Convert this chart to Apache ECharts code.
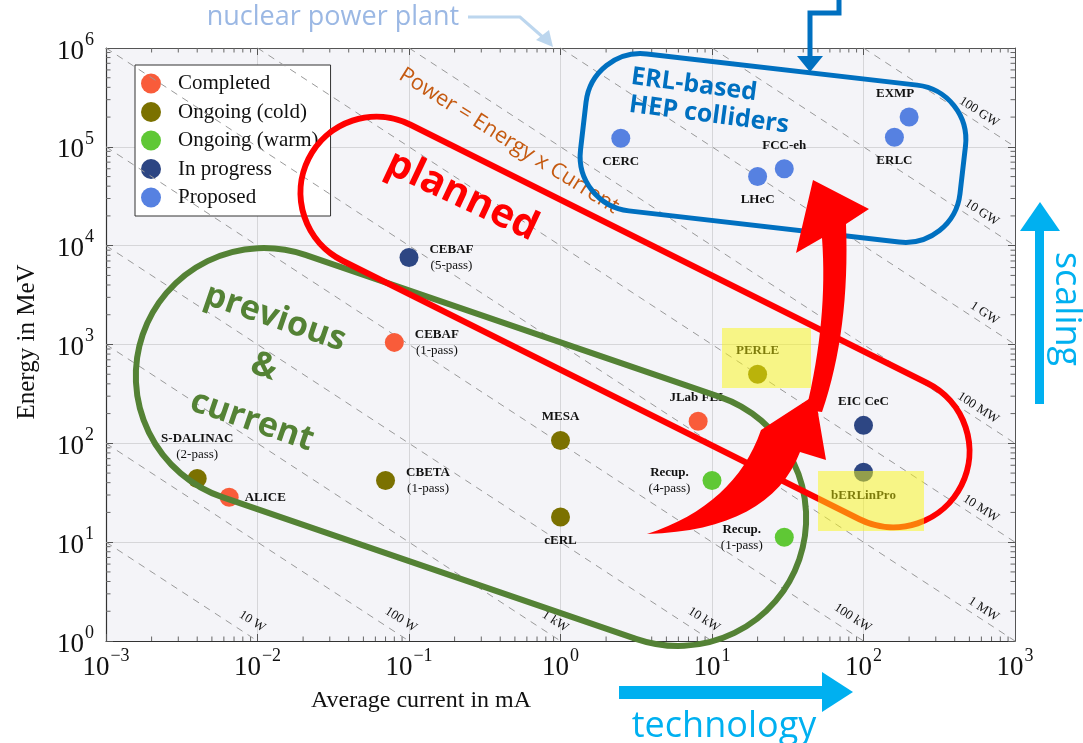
<!DOCTYPE html>
<html>
<head>
<meta charset="utf-8">
<script src="https://cdn.jsdelivr.net/npm/echarts@6/dist/echarts.min.js"></script>
<style>
html,body{margin:0;padding:0;background:#fff;}
#c{width:1083px;height:743px;}
</style>
</head>
<body>
<div id="c"></div>
<script>
// ---------- data ----------
const categories = ['Completed', 'Ongoing (cold)', 'Ongoing (warm)', 'In progress', 'Proposed'];

const completedNames = ['CEBAF (1-pass)', 'ALICE', 'JLab FEL'];
const completedCurrent = [0.08, 0.0065, 8.1];
const completedEnergy = [1050, 28.5, 167];

const coldNames = ['S-DALINAC (2-pass)', 'CBETA (1-pass)', 'MESA', 'cERL', 'PERLE'];
const coldCurrent = [0.004, 0.07, 1, 1, 20];
const coldEnergy = [44, 42, 107, 18, 500];

const warmNames = ['Recup. (4-pass)', 'Recup. (1-pass)'];
const warmCurrent = [10, 30];
const warmEnergy = [42, 11.2];

const progressNames = ['CEBAF (5-pass)', 'EIC CeC', 'bERLinPro'];
const progressCurrent = [0.1, 100, 100];
const progressEnergy = [7600, 152, 51];

const proposedNames = ['CERC', 'LHeC', 'FCC-eh', 'EXMP', 'ERLC'];
const proposedCurrent = [2.5, 20, 30, 200, 160];
const proposedEnergy = [122000, 50000, 60000, 200000, 125000];

const powerKW = [0.01, 0.1, 1, 10, 100, 1e3, 1e4, 1e5, 1e6, 1e7, 1e8];
const powerLabels = ['10 W', '100 W', '1 kW', '10 kW', '100 kW', '1 MW', '10 MW', '100 MW', '1 GW', '10 GW', '100 GW'];

const xMin = 1e-3, xMax = 1e3, yMin = 1, yMax = 1e6;

// ---------- styles ----------
const colors = ['#f95c3a', '#7b7100', '#5fc835', '#2d4683', '#5681e1'];
const serif = "'Liberation Serif', 'DejaVu Serif', serif";
const sans = "'Open Sans', 'Noto Sans', sans-serif";

const labelPlace = {
  'CEBAF (1-pass)': {position: 'right'},
  'ALICE': {position: 'right'},
  'JLab FEL': {position: 'top'},
  'S-DALINAC (2-pass)': {position: 'top'},
  'CBETA (1-pass)': {position: 'right'},
  'MESA': {position: 'top'},
  'cERL': {position: 'bottom'},
  'PERLE': {position: 'top', color: '#000'},
  'Recup. (4-pass)': {position: 'left'},
  'Recup. (1-pass)': {position: 'left'},
  'CEBAF (5-pass)': {position: 'right'},
  'EIC CeC': {position: 'top'},
  'bERLinPro': {position: 'bottom', color: '#000'},
  'CERC': {position: 'bottom'},
  'LHeC': {position: 'bottom'},
  'FCC-eh': {position: 'top'},
  'EXMP': {position: 'top', offset: [-14, 0]},
  'ERLC': {position: 'bottom'}
};

function makeData(names, xs, ys) {
  return names.map((n, i) => {
    const m = n.match(/^(.*?)\s*(\(.*\))?$/);
    const main = m[1], sub = m[2];
    const pl = labelPlace[n] || {position: 'top'};
    const two = !!sub;
    const t = two ? '{n|' + main + '}\n{s|' + sub + '}' : '{n|' + main + '}';
    const col = pl.color || '#111';
    const rn = {fontFamily: serif, fontWeight: 'bold', fontSize: 13, color: col, lineHeight: 16, align: 'center'};
    const rs = {fontFamily: serif, fontSize: 13, color: col, lineHeight: 16, align: 'center'};
    if (two) { rn.width = 54; rs.width = 54; }
    return {
      name: n,
      value: [xs[i], ys[i]],
      label: {
        show: true,
        position: pl.position,
        distance: 6,
        offset: pl.offset || [0, 0],
        formatter: t,
        rich: {n: rn, s: rs}
      }
    };
  });
}

const scatterSets = [
  makeData(completedNames, completedCurrent, completedEnergy),
  makeData(coldNames, coldCurrent, coldEnergy),
  makeData(warmNames, warmCurrent, warmEnergy),
  makeData(progressNames, progressCurrent, progressEnergy),
  makeData(proposedNames, proposedCurrent, proposedEnergy)
];

// power lines (E * I = P)
const powerLineData = powerKW.map((P, i) => {
  const i1 = Math.max(xMin, P / yMax), i2 = Math.min(xMax, P / yMin);
  const endsRight = (P / yMin) >= xMax;
  return [
    {coord: [i1, P / i1], name: powerLabels[i],
     label: {distance: endsRight ? [27, 3] : [1, 7]}},
    {coord: [i2, P / i2]}
  ];
});

// minor ticks
const minorTicks = [];
for (let k = -3; k < 3; k++) for (let m = 2; m <= 9; m++) minorTicks.push([m * Math.pow(10, k), 1, 0]);
for (let k = 0; k < 6; k++) for (let m = 2; m <= 9; m++) minorTicks.push([xMin, m * Math.pow(10, k), 1]);

function expLabel(v) {
  const e = Math.round(Math.log10(v));
  return '{b|10}{e|' + (e < 0 ? '\u2212' + (-e) : e) + '}';
}
const tickRich = {
  b: {fontFamily: serif, fontSize: 27, color: '#111', verticalAlign: 'bottom', lineHeight: 34},
  e: {fontFamily: serif, fontSize: 18, color: '#111', verticalAlign: 'top', lineHeight: 34, padding: [0, 0, 0, 1]}
};

function axisBase() {
  return {
    type: 'log', logBase: 10,
    axisLine: {show: true, onZero: false, lineStyle: {color: '#333', width: 1.2}},
    axisTick: {show: true, inside: true, length: 7, lineStyle: {color: '#555'}},
    splitLine: {show: false}
  };
}

const chart = echarts.init(document.getElementById('c'), null, {renderer: 'canvas'});

const series = categories.map((c, k) => ({
  name: c,
  type: 'scatter',
  symbol: 'circle',
  symbolSize: 19,
  itemStyle: {color: colors[k], opacity: 1},
  data: scatterSets[k],
  z: 5,
  animation: false
}));

series.push({
  name: 'power',
  type: 'line',
  data: [],
  silent: true,
  animation: false,
  markLine: {
    silent: true,
    animation: false,
    symbol: ['none', 'none'],
    lineStyle: {type: [7, 6], color: '#9a9a9a', width: 1},
    label: {
      show: true,
      position: 'insideEndTop',
      formatter: '{b}',
      fontFamily: serif,
      fontSize: 13,
      color: '#111'
    },
    data: powerLineData
  },
  z: 2
});

series.push({
  name: 'minorTicks',
  type: 'custom',
  silent: true,
  animation: false,
  clip: false,
  encode: {x: 0, y: 1},
  data: minorTicks,
  renderItem: function (params, api) {
    const v0 = api.value(0), v1 = api.value(1), t = api.value(2);
    const st = {stroke: '#666', lineWidth: 1};
    if (t === 0) {
      const b = api.coord([v0, yMin]), tp = api.coord([v0, yMax]);
      return {type: 'group', children: [
        {type: 'line', shape: {x1: b[0], y1: b[1], x2: b[0], y2: b[1] - 4.5}, style: st},
        {type: 'line', shape: {x1: tp[0], y1: tp[1], x2: tp[0], y2: tp[1] + 4.5}, style: st}
      ]};
    } else {
      const l = api.coord([xMin, v1]), r = api.coord([xMax, v1]);
      return {type: 'group', children: [
        {type: 'line', shape: {x1: l[0], y1: l[1], x2: l[0] + 4.5, y2: l[1]}, style: st},
        {type: 'line', shape: {x1: r[0], y1: r[1], x2: r[0] - 4.5, y2: r[1]}, style: st}
      ]};
    }
  },
  z: 3
});

function txt(text, x, y, font, fill, rot, z) {
  return {type: 'text', x: x, y: y, rotation: rot || 0, z: z || 100,
    style: {text: text, font: font, fill: fill, align: 'center', verticalAlign: 'middle', textAlign: 'center', textVerticalAlign: 'middle'}};
}

// sample a piecewise outline made of points and quadratic curves into polygon points
function shapePts(segs) {
  const pts = [];
  let cur = segs[0];
  pts.push(cur);
  for (let s = 1; s < segs.length; s++) {
    const g = segs[s];
    if (g.length === 4) {
      const c = [g[0], g[1]], e = [g[2], g[3]];
      for (let t = 1; t <= 16; t++) {
        const u = t / 16;
        pts.push([(1 - u) * (1 - u) * cur[0] + 2 * u * (1 - u) * c[0] + u * u * e[0],
                  (1 - u) * (1 - u) * cur[1] + 2 * u * (1 - u) * c[1] + u * u * e[1]]);
      }
      cur = e;
    } else {
      pts.push(g);
      cur = g;
    }
  }
  return pts;
}

const arrowA = shapePts([[647, 534], [735, 505, 761, 430], [815, 395], [826, 460], [800, 452], [770, 530, 647, 534]]);
const arrowB = shapePts([[806, 410], [828, 320, 822, 238], [796, 253], [813, 180], [869, 209], [846, 224], [850, 330, 822, 412]]);

const graphics = [
  // axis titles
  txt('Energy in MeV', 27, 342, '25px ' + serif, '#111', Math.PI / 2),
  txt('Average current in mA', 421, 701, '24px ' + serif, '#111', 0),
  // nuclear power plant
  txt('nuclear power plant', 333, 17, '27px ' + sans, '#9bb8e4', 0),
  {type: 'polyline', z: 100, shape: {points: [[468, 17], [520, 17], [545, 39]]}, style: {stroke: '#bcd6ee', lineWidth: 3, fill: null}},
  {type: 'polygon', z: 100, shape: {points: [[536, 40], [553, 47], [549, 30]]}, style: {fill: '#bcd6ee'}},
  // Power = Energy x Current
  txt('Power = Energy x Current', 509, 141, '21.5px ' + sans, '#c55a11', -0.56),
  // green loop
  {type: 'rect', x: 471, y: 447, rotation: -0.33, z: 100,
    shape: {x: -347, y: -128, width: 694, height: 256, r: 128},
    style: {stroke: '#548235', lineWidth: 6, fill: null}},
  txt('previous', 275, 318, 'bold 34px ' + sans, '#548235', -0.33),
  txt('&', 264, 367, 'bold 34px ' + sans, '#548235', -0.33),
  txt('current', 252, 421, 'bold 34px ' + sans, '#548235', -0.33),
  // red loop
  {type: 'rect', x: 635, y: 322, rotation: -0.4636, z: 101,
    shape: {x: -365, y: -76, width: 730, height: 152, r: 76},
    style: {stroke: '#ff0000', lineWidth: 6, fill: null}},
  txt('planned', 462, 196, 'bold 40px ' + sans, '#ff0000', -0.44, 101),
  // blue loop
  {type: 'rect', x: 773, y: 148, rotation: -0.115, z: 101,
    shape: {x: -191, y: -79, width: 382, height: 158, r: 55},
    style: {stroke: '#0070c0', lineWidth: 5, fill: null}},
  txt('ERL-based', 694, 85, 'bold 25px ' + sans, '#0070c0', -0.13, 101),
  txt('HEP colliders', 709, 115, 'bold 25px ' + sans, '#0070c0', -0.13, 101),
  // blue arrow from top
  {type: 'polyline', z: 101, shape: {points: [[839, 0], [839, 13], [810, 13], [810, 58]]}, style: {stroke: '#0070c0', lineWidth: 5, fill: null}},
  {type: 'polygon', z: 101, shape: {points: [[797, 56], [823, 56], [810, 72]]}, style: {fill: '#0070c0'}},
  // red curved arrows
  {type: 'polygon', z: 102, shape: {points: arrowA}, style: {fill: '#ff0000'}},
  {type: 'polygon', z: 102, shape: {points: arrowB}, style: {fill: '#ff0000'}},
  // technology arrow
  {type: 'rect', z: 100, shape: {x: 619, y: 686, width: 205, height: 13}, style: {fill: '#00b0f0'}},
  {type: 'polygon', z: 100, shape: {points: [[822, 672], [822, 712], [853, 692]]}, style: {fill: '#00b0f0'}},
  txt('technology', 724, 727, '36px ' + sans, '#00b0f0', 0),
  // scaling arrow
  {type: 'rect', z: 100, shape: {x: 1035, y: 228, width: 9, height: 176}, style: {fill: '#00b0f0'}},
  {type: 'polygon', z: 100, shape: {points: [[1020, 231], [1060, 231], [1040, 202]]}, style: {fill: '#00b0f0'}},
  txt('scaling', 1066, 309, '36px ' + sans, '#00b0f0', -Math.PI / 2),
  // yellow highlights
  {type: 'rect', z: 110, shape: {x: 722, y: 328, width: 89, height: 60}, style: {fill: 'rgba(250,245,20,0.5)'}},
  {type: 'rect', z: 110, shape: {x: 818, y: 471, width: 106, height: 60}, style: {fill: 'rgba(250,245,20,0.5)'}}
];

const option = {
  backgroundColor: '#ffffff',
  animation: false,
  grid: {left: 106, right: 68, top: 48, bottom: 102, show: true, backgroundColor: '#f4f4f8', borderWidth: 0},
  legend: {
    data: categories,
    orient: 'vertical',
    left: 135, top: 65,
    icon: 'circle',
    itemWidth: 20, itemHeight: 20, itemGap: 7.5,
    padding: [8, 12, 8, 6],
    backgroundColor: '#ffffff',
    borderColor: '#333', borderWidth: 1, borderRadius: 0,
    textStyle: {fontFamily: serif, fontSize: 21, color: '#111', padding: [0, 0, 0, 12]},
    selectedMode: false
  },
  xAxis: [
    Object.assign(axisBase(), {
      position: 'bottom', min: xMin, max: xMax, splitNumber: 6,
      splitLine: {show: true, lineStyle: {color: '#d6d6d9', width: 1}},
      axisLabel: {show: true, margin: 6, formatter: expLabel, rich: tickRich}
    }),
    Object.assign(axisBase(), {
      position: 'top', min: xMin, max: xMax, splitNumber: 6,
      axisLine: {show: true, onZero: false, lineStyle: {color: '#555', width: 1}},
      axisLabel: {show: false}
    })
  ],
  yAxis: [
    Object.assign(axisBase(), {
      position: 'left', min: yMin, max: yMax, splitNumber: 6,
      splitLine: {show: true, lineStyle: {color: '#d6d6d9', width: 1}},
      axisLabel: {show: true, margin: 12, formatter: expLabel, rich: tickRich}
    }),
    Object.assign(axisBase(), {
      position: 'right', min: yMin, max: yMax, splitNumber: 6,
      axisLine: {show: true, onZero: false, lineStyle: {color: '#555', width: 1}},
      axisLabel: {show: false}
    })
  ],
  series: series,
  graphic: graphics
};

chart.setOption(option);
</script>
</body>
</html>
